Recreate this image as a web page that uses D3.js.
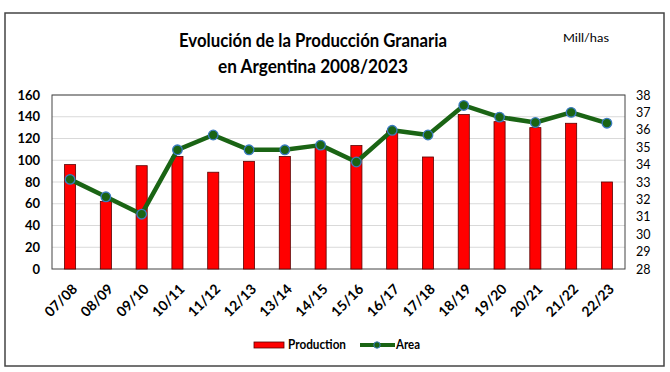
<!DOCTYPE html>
<html>
<head>
<meta charset="utf-8">
<script src="https://cdn.jsdelivr.net/npm/d3@7"></script>
<style>
  body { margin: 0; background: #fff; }
  text { font-family: Lato, "Open Sans", sans-serif; }
</style>
</head>
<body>
<svg width="670" height="372"></svg>
<script>
// data
var campaigns = ["07/08","08/09","09/10","10/11","11/12","12/13","13/14","14/15",
                 "15/16","16/17","17/18","18/19","19/20","20/21","21/22","22/23"];
var production = [96, 62, 95, 103.5, 89, 99, 103.5, 112, 113.5, 127, 103, 142, 135.5, 130, 134, 80];
var area = [33.15, 32.15, 31.15, 34.85, 35.7, 34.85, 34.85, 35.12, 34.15, 35.97, 35.7, 37.4, 36.73, 36.42, 37.0, 36.38];
var leftTicks = [0, 20, 40, 60, 80, 100, 120, 140, 160];
var rightTicks = [28, 29, 30, 31, 32, 33, 34, 35, 36, 37, 38];

var svg = d3.select("svg");
var margin = {left: 52, right: 45, top: 95, bottom: 103};
var width = 670 - margin.left - margin.right,
    height = 372 - margin.top - margin.bottom;

// outer frame
svg.append("rect")
  .attr("x", 5).attr("y", 13)
  .attr("width", 659).attr("height", 353)
  .attr("fill", "#fff")
  .attr("stroke", "#444").attr("stroke-width", 1.5);

// title (squeezed to match the narrow original face)
svg.append("text")
  .attr("x", 313).attr("y", 47)
  .attr("text-anchor", "middle")
  .attr("textLength", 268).attr("lengthAdjust", "spacingAndGlyphs")
  .style("font-size", "18.5px").style("font-weight", "bold")
  .text("Evolución de la Producción Granaria");
svg.append("text")
  .attr("x", 313).attr("y", 73)
  .attr("text-anchor", "middle")
  .attr("textLength", 190).attr("lengthAdjust", "spacingAndGlyphs")
  .style("font-size", "18.5px").style("font-weight", "bold")
  .text("en Argentina 2008/2023");
svg.append("text")
  .attr("x", 586).attr("y", 42)
  .attr("text-anchor", "middle")
  .attr("textLength", 46).attr("lengthAdjust", "spacingAndGlyphs")
  .style("font-size", "12px")
  .text("Mill/has");

var g = svg.append("g").attr("transform", "translate(" + margin.left + "," + margin.top + ")");

var x = d3.scaleBand().domain(campaigns).range([0, width]).paddingInner(0.69).paddingOuter(0.35);
var y = d3.scaleLinear().domain([0, 160]).range([height, 0]);
var y2 = d3.scaleLinear().domain([28, 38]).range([height, 0]);

// gridlines
g.selectAll(".grid")
  .data(leftTicks.slice(1))
  .enter().append("line")
  .attr("x1", 0).attr("x2", width)
  .attr("y1", d => y(d)).attr("y2", d => y(d))
  .attr("stroke", "#d9d9d9").attr("stroke-width", 1);

// plot border
g.append("rect")
  .attr("width", width).attr("height", height)
  .attr("fill", "none").attr("stroke", "#444").attr("stroke-width", 1);

// axes
var yAxis = g.append("g")
  .call(d3.axisLeft(y).tickValues(leftTicks).tickSize(0).tickPadding(12));
yAxis.select(".domain").remove();
yAxis.selectAll("text").style("font-size", "13px").style("font-weight", "bold").attr("fill", "#000");

var y2Axis = g.append("g").attr("transform", "translate(" + width + ",0)")
  .call(d3.axisRight(y2).tickValues(rightTicks).tickSize(0).tickPadding(11));
y2Axis.select(".domain").remove();
y2Axis.selectAll("text").style("font-size", "12.5px").attr("fill", "#000");

var xAxis = g.append("g").attr("transform", "translate(0," + height + ")")
  .call(d3.axisBottom(x).tickSize(0));
xAxis.select(".domain").remove();
xAxis.selectAll("text")
  .style("font-size", "14px").style("font-weight", "bold").attr("fill", "#000")
  .style("text-anchor", "end")
  .attr("dy", "0")
  .attr("transform", "translate(6,19) rotate(-45)");

// bars
g.selectAll(".bar")
  .data(production)
  .enter().append("rect")
  .attr("x", (d, i) => x(campaigns[i]))
  .attr("y", d => y(d))
  .attr("width", x.bandwidth())
  .attr("height", d => height - y(d))
  .attr("fill", "#ff0000")
  .attr("stroke", "#5a0000").attr("stroke-width", 0.8);

// area line
var line = d3.line()
  .x((d, i) => x(campaigns[i]) + x.bandwidth() / 2)
  .y(d => y2(d));
g.append("path")
  .datum(area)
  .attr("d", line)
  .attr("fill", "none")
  .attr("stroke", "#1a6414").attr("stroke-width", 4.5)
  .attr("stroke-linejoin", "round");
g.selectAll(".dot")
  .data(area)
  .enter().append("circle")
  .attr("cx", (d, i) => x(campaigns[i]) + x.bandwidth() / 2)
  .attr("cy", d => y2(d))
  .attr("r", 4.8)
  .attr("fill", "#1a6414")
  .attr("stroke", "#3a7bbf").attr("stroke-width", 1.3);

// legend
var lg = svg.append("g");
lg.append("rect")
  .attr("x", 254).attr("y", 342).attr("width", 30).attr("height", 6)
  .attr("fill", "#ff0000").attr("stroke", "#5a0000").attr("stroke-width", 0.8);
lg.append("text")
  .attr("x", 288).attr("y", 349)
  .attr("textLength", 58).attr("lengthAdjust", "spacingAndGlyphs")
  .style("font-size", "12.5px").style("font-weight", "bold")
  .text("Production");
lg.append("line")
  .attr("x1", 360).attr("x2", 395).attr("y1", 345).attr("y2", 345)
  .attr("stroke", "#1a6414").attr("stroke-width", 4);
lg.append("circle")
  .attr("cx", 377).attr("cy", 345).attr("r", 3.2)
  .attr("fill", "#1a6414").attr("stroke", "#3a7bbf").attr("stroke-width", 1);
lg.append("text")
  .attr("x", 396).attr("y", 349)
  .attr("textLength", 24).attr("lengthAdjust", "spacingAndGlyphs")
  .style("font-size", "12.5px").style("font-weight", "bold")
  .text("Area");
</script>
</body>
</html>
